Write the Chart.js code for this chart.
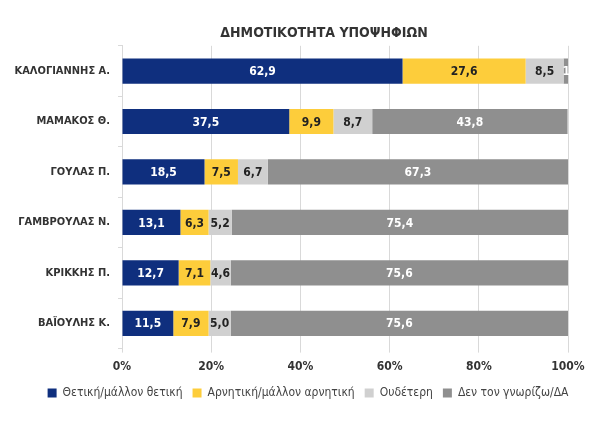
<!DOCTYPE html>
<html>
<head>
    <meta charset="utf-8">
    <title>ΔΗΜΟΤΙΚΟΤΗΤΑ ΥΠΟΨΗΦΙΩΝ</title>
    <script src="https://cdn.jsdelivr.net/npm/chart.js@4"></script>
    <style>
        html, body { margin: 0; padding: 0; background: #fff; }
        #wrap { width: 600px; height: 442px; }
    </style>
</head>
<body>
    <div id="wrap"><canvas id="chart" width="600" height="442"></canvas></div>

    <script>
        // δεδομένα
        const candidates = ['ΚΑΛΟΓΙΑΝΝΗΣ Α.', 'ΜΑΜΑΚΟΣ Θ.', 'ΓΟΥΛΑΣ Π.', 'ΓΑΜΒΡΟΥΛΑΣ Ν.', 'ΚΡΙΚΚΗΣ Π.', 'ΒΑΪΟΥΛΗΣ Κ.'];
        const positive = [62.9, 37.5, 18.5, 13.1, 12.7, 11.5];
        const negative = [27.6, 9.9, 7.5, 6.3, 7.1, 7.9];
        const neutral = [8.5, 8.7, 6.7, 5.2, 4.6, 5.0];
        const unknown = [1.0, 43.8, 67.3, 75.4, 75.6, 75.6];
        const xTicks = [0, 20, 40, 60, 80, 100];

        const FONT = "'Liberation Sans Narrow', 'DejaVu Sans Condensed', 'Liberation Sans', sans-serif";

        // ετικέτες τιμών μέσα στις μπάρες
        const barLabels = {
            id: 'barLabels',
            afterDatasetsDraw(chart) {
                const ctx = chart.ctx;
                ctx.save();
                ctx.font = 'bold 12px ' + FONT;
                ctx.textBaseline = 'middle';
                chart.data.datasets.forEach((ds, i) => {
                    chart.getDatasetMeta(i).data.forEach((bar, j) => {
                        let txt = ds.data[j].toFixed(1).replace('.', ',');
                        let x = (bar.x + bar.base) / 2;
                        ctx.textAlign = 'center';
                        if (Math.abs(bar.x - bar.base) < 20) {
                            // πολύ στενό κομμάτι, μόνο η αρχή του αριθμού
                            txt = txt.slice(0, 2);
                            x = bar.base - 1;
                            ctx.textAlign = 'left';
                        }
                        ctx.fillStyle = ds.labelColor;
                        ctx.fillText(txt, x, bar.y + 1);
                    });
                });
                ctx.restore();
            }
        };

        // μετακίνηση τίτλου και υπομνήματος λίγο δεξιά, όπως στο πρωτότυπο
        const shiftBoxes = {
            id: 'shiftBoxes',
            afterLayout(chart) {
                chart.legend.left += 24;
                chart.legend.right += 24;
                chart.titleBlock.left += 40;
                chart.titleBlock.right += 40;
            }
        };

        const chart = new Chart(document.getElementById('chart'), {
            type: 'bar',
            data: {
                labels: candidates,
                datasets: [
                    { label: 'Θετική/μάλλον θετική', data: positive, backgroundColor: '#0f2f7e', labelColor: '#ffffff' },
                    { label: 'Αρνητική/μάλλον αρνητική', data: negative, backgroundColor: '#fdcd3b', labelColor: '#222222' },
                    { label: 'Ουδέτερη', data: neutral, backgroundColor: '#d0d0d0', labelColor: '#222222' },
                    { label: 'Δεν τον γνωρίζω/ΔΑ', data: unknown, backgroundColor: '#8f8f8f', labelColor: '#ffffff' }
                ]
            },
            options: {
                indexAxis: 'y',
                responsive: false,
                animation: false,
                layout: { padding: { top: 8, right: 32, bottom: 33, left: 0 } },
                datasets: { bar: { barPercentage: 0.5, categoryPercentage: 1.0 } },
                scales: {
                    x: {
                        stacked: true,
                        min: 0,
                        max: 100,
                        afterBuildTicks: (s) => { s.ticks = xTicks.map(v => ({ value: v })); },
                        afterFit: (s) => { s.height -= 4; },
                        ticks: {
                            callback: (v) => v + '%',
                            color: '#333',
                            font: { family: FONT, size: 12, weight: 'bold' },
                            padding: 7
                        },
                        grid: { color: '#d9d9d9', tickLength: 4 },
                        border: { display: false }
                    },
                    y: {
                        stacked: true,
                        afterFit: (s) => { s.width = 122; },
                        ticks: {
                            color: '#333',
                            font: { family: FONT, size: 11, weight: 'bold' },
                            padding: 8
                        },
                        grid: { display: true, drawOnChartArea: false, offset: true, color: '#d9d9d9', tickLength: 4 },
                        border: { color: '#d9d9d9' }
                    }
                },
                plugins: {
                    title: {
                        display: true,
                        text: 'ΔΗΜΟΤΙΚΟΤΗΤΑ ΥΠΟΨΗΦΙΩΝ',
                        color: '#333',
                        font: { family: FONT, size: 14, weight: 'bold' },
                        padding: { top: 17, bottom: 4 }
                    },
                    legend: {
                        position: 'bottom',
                        labels: {
                            boxWidth: 9,
                            boxHeight: 9,
                            color: '#444',
                            font: { family: FONT, size: 12 },
                            padding: 10
                        }
                    },
                    tooltip: { enabled: false }
                }
            },
            plugins: [barLabels, shiftBoxes]
        });
    </script>
</body>
</html>
